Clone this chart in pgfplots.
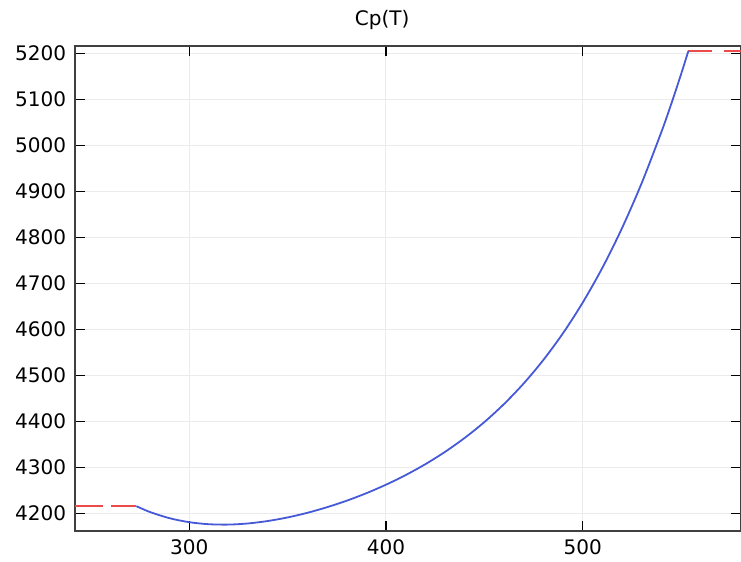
\documentclass[border=0pt]{standalone}
\usepackage{fontspec}
\setmainfont{DejaVu Sans}
\usepackage{pgfplots}
\pgfplotsset{compat=1.18}
\usetikzlibrary{calc}

\definecolor{cpblue}{RGB}{70,90,215}
\definecolor{cpred}{RGB}{235,75,75}

\begin{document}
\fontsize{10}{12}\selectfont
\begin{tikzpicture}
\begin{axis}[
    name=ax,
    scale only axis,
    width=332.5pt, height=242pt,
    xmin=242, xmax=580.5,
    ymin=4163, ymax=5216,
    xtick={300,400,500},
    ytick={4200,4300,...,5200},
    tick align=inside,
    major tick length=5pt,
    tick style={black, line width=0.6pt},
    axis line style={black!75, line width=1pt},
    grid=major,
    grid style={black!8, line width=0.5pt},
    /pgf/number format/assume math mode=true,
    /pgf/number format/1000 sep={},
    yticklabel style={xshift=-1pt},
    xticklabel style={yshift=-1pt},
    title={Cp(T)},
    title style={at={(axis description cs:0.461,1)}, anchor=center, yshift=7pt},
]

% extrapolated parts
\addplot[cpred, line width=0.9pt, dash pattern=on 14pt off 4pt]
coordinates {(242,4216.3) (273.15,4216.3)};
\addplot[cpred, line width=0.9pt, dash pattern=on 12pt off 6pt]
coordinates {(553.75,5205.4) (590,5205.4)};

% Cp(T)
\addplot[cpblue, line width=0.9pt, smooth]
coordinates {
    (273.15,4216.3)
    (280,4203.7)
    (290,4190.2)
    (300,4181.5)
    (310,4177.1)
    (320,4176.3)
    (330,4178.8)
    (340,4184.1)
    (350,4191.8)
    (360,4201.8)
    (370,4214.0)
    (380,4228.1)
    (390,4244.4)
    (400,4262.9)
    (410,4283.8)
    (420,4307.4)
    (430,4334.2)
    (440,4364.5)
    (450,4398.9)
    (460,4438.1)
    (470,4482.8)
    (480,4533.8)
    (490,4592.0)
    (500,4658.4)
    (510,4734.0)
    (520,4820.3)
    (530,4918.1)
    (540,5029.0)
    (545,5089.8)
    (550,5154.4)
    (553.75,5205.4)
};

\end{axis}
\pgfresetboundingbox
\path ($(ax.south west)+(-37.5pt,-15.5pt)$) rectangle ($(ax.north east)+(0pt,23pt)$);
\end{tikzpicture}
\end{document}
